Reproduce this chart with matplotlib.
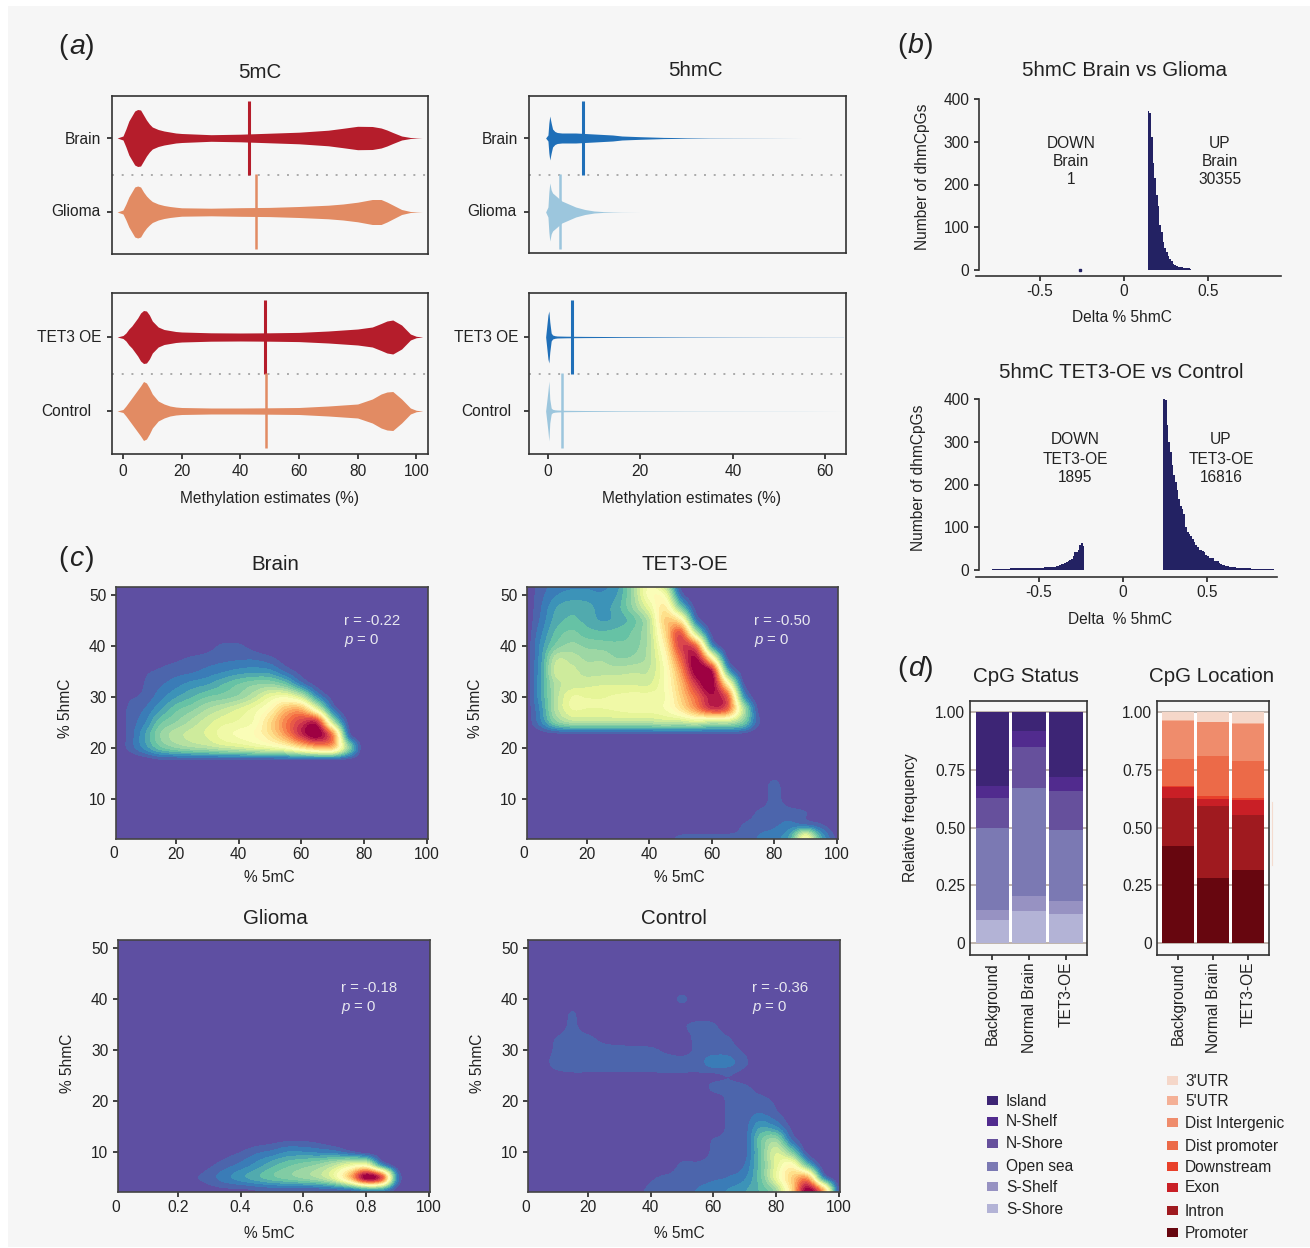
import numpy as np
import matplotlib
matplotlib.use('Agg')
import matplotlib.pyplot as plt
from matplotlib.patches import Rectangle

plt.rcParams['font.family'] = ['Liberation Sans', 'DejaVu Sans']
W, H = 1310, 1248

# (a) half widths of the violins, in pixels-ish
x_5mc = [-2,0,1,2,3,4,5,6,7,8,9,10,12,14,16,18,20,30,40,50,60,70,75,80,85,88,90,92,95,98,100,102]
mc_brain = [0,2,9,17,22,27,28.5,28,23,18,14,11,8.5,7,6,5,4.5,3.3,3.8,4.8,5.8,7.8,9.7,11.7,11.5,10,8,5.5,2,.5,.2,0]
mc_glioma = [0,2,8,15,20,25,26,25,20,16,13,10.5,8,6.5,5.5,4.8,4.2,3.8,4.3,4.6,5.5,6.8,8,9.8,12.5,12.5,10,7,2.5,.5,.2,0]
mc_tet3 = [0,1.5,4,8,11,15,19,24,26.5,26,22,16,10,7.5,6.5,5.5,5,4.2,4,4.2,4.6,6,7,8,10,13.5,16,17,12,3,.7,.1]
mc_control = [0,1.5,5,9,13,17,21,25,29.5,28,23,17,10,7,5,4,3.5,3,3,3.2,3.5,5,6,7,12,17,19,19.5,12,3,.7,.1]
mc_means = [43, 45.2, 48.3, 48.8]

x_5hmc = [-0.5,0,.2,.4,.7,1,1.5,2,3,4,6,8,10,12,14,16,20,25,30,35,40,47,55,64]
hmc_brain = [0,3,15,22,15,9,6.5,5.5,5,5,5,4.5,4,3.5,3,2,1.3,.6,.3,.15,.1,.06,0,0]
hmc_glioma = [0,5,20,29,22,19,17,15,11,9,5,2.5,1,.4,.2,.08,0,0,0,0,0,0,0,0]
hmc_tet3 = [0,22,26,15,4,2,1.3,1,.9,.8,.7,.6,.55,.5,.45,.4,.35,.28,.22,.18,.14,.1,.08,.06]
hmc_control = [0,20,30,12,3,1.7,1.2,1,.8,.7,.6,.5,.45,.4,.35,.3,.25,.2,.15,.12,.1,.08,.06,0]
hmc_means = [7.6, 2.6, 5.3, 3.1]

# (b) histogram counts
up1_x0, up1_counts = 0.14, [372,368,310,250,215,175,150,105,90,65,52,42,33,25,20,14,11,9,8,8,6,5,5,4,4,3]
up2_x0, up2_counts = 0.24, [400,398,340,300,275,245,222,205,187,165,150,142,130,100,90,85,80,72,66,58,54,47,46,44,42,36,33,29,27,28,
                            22,20,21,17,14,12,11,10,9,8,7,6,6,5,5,5,4,4,4,4,4,4,3,3,3,3,3,3,3,3,3,3,3,3,3,3]
down2_x0, down2_counts = -0.78, [3,3,3,3,3,3,3,3,3,3,3,4,4,4,4,4,4,4,4,4,4,4,4,4,4,5,5,5,5,5,5,6,6,6,6,7,8,8,9,10,
                                 12,14,15,17,19,20,23,26,33,41,43,46,58,63,55]

# (c) density read on a grid: x 0,5..100 and y 2.5,5..52.5
brain_y0, brain_rows = 17.5, [
    [0,0,.01,.03,.03,.03,.03,.03,.03,.03,.03,.03,.03,.03,.03,.02],
    [0,.05,.13,.22,.27,.30,.32,.35,.37,.40,.43,.48,.58,.66,.64,.28],
    [0,.05,.15,.27,.33,.36,.39,.44,.47,.50,.58,.72,.90,1.0,.76,.10],
    [0,.05,.11,.22,.27,.32,.37,.41,.43,.47,.60,.76,.88,.90,.36,.03],
    [0,.045,.08,.15,.22,.26,.31,.35,.39,.44,.52,.66,.68,.44,.10],
    [0,.03,.05,.10,.15,.19,.23,.25,.28,.34,.42,.45,.36,.14,.02],
    [0,0,.04,.07,.10,.13,.15,.19,.23,.26,.27,.22,.10,.02],
    [0,0,.03,.045,.06,.07,.09,.11,.13,.14,.13,.07,.02],
    [0,0,0,.02,.03,.045,.055,.065,.07,.07,.05,.015],
    [0,0,0,0,0,0,.02,.045,.045,.02],
]
tet3_y0, tet3_rows = 2.5, [
    [0,0,0,0,0,0,0,0,0,.02,.045,.05,.05,.05,.05,.08,.10,.17,.45,.17,.03],
    [0,0,0,0,0,0,0,0,0,0,0,0,0,0,.04,.06,.07,.09,.08,.045],
    [0,0,0,0,0,0,0,0,0,0,0,0,0,0,0,.045,.06,.055,.04],
    [0,0,0,0,0,0,0,0,0,0,0,0,0,0,0,0,.055,.01],
    [0,0,0,0,0,0,0,0,0,0,0,0,0,0,0,0,.055],
    [0,0,0,0,0,0,0,0,0,0,0,0,0,0,0,0,.02],
    [],
    [],
    [0,.01,.02,.02,.02,.02,.02,.02,.02,.02,.02,.02,.02,.02,.02],
    [0,.10,.25,.32,.33,.33,.33,.33,.33,.35,.35,.38,.35,.35,.25,.05],
    [0,.12,.32,.42,.42,.42,.43,.44,.44,.46,.56,.72,.87,.80,.35,.03],
    [0,.14,.32,.42,.42,.42,.43,.44,.44,.46,.62,.80,.95,.82,.18],
    [0,.14,.32,.36,.37,.38,.38,.38,.38,.47,.66,.90,1.0,.55,.06],
    [0,.14,.36,.36,.33,.33,.33,.34,.35,.47,.72,1.0,.95,.22,.01],
    [0,.13,.33,.33,.30,.30,.27,.28,.33,.50,.80,.97,.55,.05],
    [0,.12,.24,.28,.26,.25,.24,.25,.33,.55,.87,.78,.15],
    [0,.10,.20,.24,.21,.20,.21,.24,.33,.60,.82,.35,.03],
    [0,.08,.17,.20,.18,.15,.17,.22,.34,.62,.55,.10],
    [0,.07,.15,.18,.17,.14,.18,.28,.42,.55,.25,.02],
    [0,.06,.11,.13,.13,.12,.16,.30,.48,.45,.08],
    [0,.05,.09,.10,.10,.10,.14,.30,.45,.30,.03],
]
glioma_y0, glioma_rows = 2.5, [
    [0,0,0,0,0,0,.02,.03,.03,.04,.05,.05,.05,.05,.06,.08,.14,.14,.02],
    [0,0,0,0,0,.03,.06,.10,.14,.18,.22,.25,.28,.32,.42,.66,1.0,.85,.12],
    [0,0,0,0,0,0,.03,.06,.09,.13,.18,.22,.25,.28,.34,.42,.45,.14,.01],
    [0,0,0,0,0,0,0,.02,.04,.07,.09,.12,.12,.11,.10,.06,.02],
    [0,0,0,0,0,0,0,0,0,.01,.02,.03,.03,.02],
]
control_y0, control_rows = 2.5, [
    [0,0,0,0,0,0,0,.02,.05,.06,.06,.08,.10,.12,.15,.20,.30,.60,1.0,.70,.05],
    [0,0,0,0,0,0,0,0,.03,.05,.06,.06,.07,.08,.11,.22,.42,.62,.70,.15],
    [0,0,0,0,0,0,0,0,0,0,.05,.05,.06,.06,.08,.22,.40,.50,.22,.01],
    [0,0,0,0,0,0,0,0,0,0,0,0,.05,.06,.06,.22,.38,.25,.03],
    [0,0,0,0,0,0,0,0,0,0,0,0,.04,.05,.06,.22,.28,.08],
    [0,0,0,0,0,0,0,0,0,0,0,0,0,.05,.06,.15,.12,.03],
    [0,0,0,0,0,0,0,0,0,0,0,0,0,.05,.06,.08,.05,.01],
    [0,0,0,0,0,0,0,0,0,0,0,0,0,.05,.06,.06,.03],
    [0,0,0,0,0,0,0,0,0,0,0,0,.05,.05,.05,.02],
    [0,0,.02,.03,.03,.03,.03,.03,.03,.03,.03,.03,.03,.04,.02],
    [0,.01,.06,.06,.06,.06,.06,.06,.06,.06,.06,.06,.10,.09,.05],
    [0,0,.05,.06,.06,.06,.06,.055,.05,.03,.02,.05,.06,.06,.03],
    [0,0,.04,.06,.05,.02,0,0,0,0,.02,.05,.06,.04],
    [0,0,0,.05,0,0,0,0,0,0,.03,.05,.045],
    [0,0,0,.04],
    [0,0,0,0,0,0,0,0,0,0,.05],
]
r_values = ['r = -0.22', 'r = -0.50', 'r = -0.18', 'r = -0.36']

# (d) stacked fractions, bottom to top
samples = ['Background', 'Normal Brain', 'TET3-OE']
status_names = ['S-Shore', 'S-Shelf', 'Open sea', 'N-Shore', 'N-Shelf', 'Island']
status_colors = ['#B3B3D6', '#9792C2', '#7B79B3', '#66509C', '#512B8E', '#3D2575']
status_tops = [[.10,.145,.50,.63,.68,1], [.14,.205,.67,.85,.92,1], [.125,.18,.49,.66,.72,1]]
loc_names = ['Promoter', 'Intron', 'Exon', 'Downstream', 'Dist promoter', 'Dist Intergenic', "5'UTR", "3'UTR"]
loc_colors = ['#67060F', '#9F1A1F', '#C91F26', '#E8402A', '#EC6A48', '#EF8C6C', '#F4B096', '#F5D7C9']
loc_tops = [[.42,.63,.675,.68,.795,.96,.965,1], [.28,.595,.625,.635,.81,.955,.957,1], [.315,.555,.62,.63,.79,.95,.952,1]]

red, orange = '#B51D2B', '#E28B63'
blue, ltblue = '#1F6FB8', '#9CC6DD'
navy = '#232263'
dark = '#222222'
fs = 11.2


def px_axes(l, t, r, b):
    ax = fig.add_axes([l/W, 1-b/H, (r-l)/W, (b-t)/H])
    ax.set_facecolor('none')
    ax.tick_params(labelsize=fs, colors=dark, length=3.5, width=1.2)
    for s in ax.spines.values():
        s.set_linewidth(1.2)
        s.set_color('#333333')
    return ax


def violins(ax, xs, top, bottom, means, c1, c2, xlim, ylim, lw=(2.2, 1.8)):
    ax.fill_between(xs, 74-np.array(top), 74+np.array(top), color=c1, lw=0)
    ax.fill_between(xs, -np.array(bottom), bottom, color=c2, lw=0)
    ax.axhline(37, color='#AAAAAA', lw=1.4, ls=(0, (1, 4)))
    ax.plot([means[0]]*2, [37, 111], color=c1, lw=lw[0], solid_capstyle='butt')
    ax.plot([means[1]]*2, [-37, 38], color=c2, lw=lw[1], solid_capstyle='butt')
    ax.set_xlim(xlim)
    ax.set_ylim(ylim)
    ax.set_yticks([0, 74])
    ax.set_yticklabels([])


def density(ax, y0, rows):
    arr = np.zeros((21, 21))
    start = int(round((y0-2.5)/2.5))
    for i, row in enumerate(rows):
        arr[start+i, :len(row)] = row
    ax.imshow(arr, origin='lower', extent=[-2.5, 102.5, 1.25, 53.75], aspect='auto',
              cmap=plt.get_cmap('Spectral_r', 26), vmin=0, vmax=1,
              interpolation='catrom', interpolation_stage='data')
    ax.set_xlim(0.9, 100.4)
    ax.set_ylim(2.16, 51.6)
    ax.set_yticks([10, 20, 30, 40, 50])
    ax.set_xticks([20, 40, 60, 80, 100])
    ax.tick_params(axis='x', pad=2.2)
    for s in ax.spines.values():
        s.set_color('#444444')


def hist(ax, x0, counts, width=0.01):
    edges = x0 + np.arange(len(counts)+1)*width
    ax.stairs(counts, edges, fill=True, color=navy, lw=0.8)


def stacked(ax, tops, colors, xlim):
    ax.set_axisbelow(True)
    ax.axhspan(0, 1, color='white', lw=0, zorder=0)
    ax.grid(axis='y', color='#B5A8A0', lw=1.2)
    for i, t in enumerate(tops):
        prev = 0
        for top, c in zip(t, colors):
            ax.bar(i, top-prev, bottom=prev, width=0.9, color=c, lw=0, zorder=2)
            prev = top
    ax.set_xlim(xlim)
    ax.set_ylim(-0.052, 1.048)
    ax.set_yticks([0, .25, .5, .75, 1])
    ax.set_xticks([0, 1, 2])
    ax.set_xticklabels(samples, rotation=90, fontsize=fs)
    ax.tick_params(axis='y', length=0)
    ax.tick_params(axis='x', pad=1.5)


fig = plt.figure(figsize=(W/100, H/100), dpi=100, facecolor='white')
fig.add_artist(Rectangle((8/W, 1/H), (W-8)/W, (H-7)/H, transform=fig.transFigure,
                         facecolor='#F6F6F6', edgecolor='none', zorder=-5))

# panel a
xl1, xl2 = (-3.75, 104), (-4.1, 64.5)
a1 = px_axes(112, 96, 428, 254)
violins(a1, x_5mc, mc_brain, mc_glioma, mc_means[:2], red, orange, xl1, (-42, 116))
a1.set_xticks([])
a2 = px_axes(112, 293, 428, 454)
violins(a2, x_5mc, mc_tet3, mc_control, mc_means[2:], red, orange, xl1, (-43, 118))
a2.set_xticks(range(0, 101, 20))
a3 = px_axes(529, 96, 846, 253)
violins(a3, x_5hmc, hmc_brain, hmc_glioma, hmc_means[:2], blue, ltblue, xl2, (-41, 116))
a3.set_xticks([])
a4 = px_axes(529, 293, 846, 454)
violins(a4, x_5hmc, hmc_tet3, hmc_control, hmc_means[2:], blue, ltblue, xl2, (-43, 118))
a4.set_xticks(range(0, 61, 20))

# panel c
c1 = px_axes(116, 587, 428, 839)
density(c1, brain_y0, brain_rows)
c2 = px_axes(527, 587, 838, 839)
density(c2, tet3_y0, tet3_rows)
c3 = px_axes(118, 940, 430, 1192)
density(c3, glioma_y0, glioma_rows)
c3.set_xticklabels(['0.2', '0.4', '0.6', '0.8', '100'])
c4 = px_axes(528, 940, 840, 1192)
density(c4, control_y0, control_rows)

# panel b
for (t, y0, b, r, x0), parts in zip(
        [(99, 270, 276, 1281, 1124), (399, 570, 577, 1277, 1123)],
        [[(up1_x0, up1_counts)], [(up2_x0, up2_counts), (down2_x0, down2_counts)]]):
    ax = px_axes(976, t, r, b)
    for start, counts in parts:
        hist(ax, start, counts)
    ax.set_xlim((976-x0)/168, (r-x0)/168)
    ax.set_ylim(-(b-y0)/0.4275, 400)
    ax.spines[['top', 'right']].set_visible(False)
    ax.spines['left'].set_position(('data', (979-x0)/168))
    ax.spines['left'].set_bounds(0, 400)
    ax.set_yticks(range(0, 401, 100))
    ax.set_xticks([-.5, 0, .5])
    ax.set_xticklabels(['-0.5', '0', '0.5'])
    ax.tick_params(axis='x', pad=2.5)
    if t == 99:
        ax.plot([-0.26], [1], 's', ms=2, color=navy)

# panel d
d1 = px_axes(970, 701, 1087, 955)
stacked(d1, status_tops, status_colors, (-0.6, 2.57))
d1.set_yticklabels(['0', '0.25', '0.50', '0.75', '1.00'])
d2 = px_axes(1157, 701, 1269, 955)
stacked(d2, loc_tops, loc_colors, (-0.6, 2.6))
d2.set_yticklabels(['0', '0.25', '0.50', '0.75', '1.00'])

# text layer in pixel coordinates
ov = fig.add_axes([0, 0, 1, 1], zorder=10)
ov.set_xlim(0, W)
ov.set_ylim(H, 0)
ov.axis('off')
ov.plot([1272, 1272], [802, 865], color='#F5DCCF', lw=0.8)


def T(x, y, s, size=fs, ha='center', color=dark, **kw):
    ov.text(x, y+1, s, fontsize=size, ha=ha, va='center', color=color, **kw)


for x, y, s in [(68, 46, 'a'), (907, 45, 'b'), (68, 558, 'c'), (907, 668, 'd')]:
    T(x, y, '(', 20.5, ha='right')
    T(x+1, y, s, 20.5, ha='left', style='italic')
    T(x+17, y, ')', 20.5, ha='left')

tsize = 14.8
for x, y, s in [(260, 71, '5mC'), (695, 70, '5hmC'), (1124, 70, '5hmC Brain vs Glioma'),
                (1121, 371, '5hmC TET3-OE vs Control'), (275, 563, 'Brain'), (685, 563, 'TET3-OE'),
                (275, 917, 'Glioma'), (674, 917, 'Control'), (1026, 675, 'CpG Status'),
                (1212, 675, 'CpG Location')]:
    T(x, y, s, tsize)

for x, y, s in [(101, 138, 'Brain'), (100, 210, 'Glioma'), (101, 337, 'TET3 OE'), (91, 411, 'Control'),
                (518, 138, 'Brain'), (517, 210, 'Glioma'), (518, 337, 'TET3 OE'), (511, 411, 'Control')]:
    T(x, y, s, ha='right')

T(270, 497, 'Methylation estimates (%)')
T(692, 497, 'Methylation estimates (%)')
T(1122, 316, 'Delta % 5hmC')
T(1120, 618, 'Delta  % 5hmC')
T(922, 176, 'Number of dhmCpGs', rotation=90)
T(918, 477, 'Number of dhmCpGs', rotation=90)
T(911, 817, 'Relative frequency', rotation=90)
for x, ys, lines in [(1071, (142, 161, 179), ('DOWN', 'Brain', '1')),
                     (1220, (142, 161, 179), ('UP', 'Brain', '30355')),
                     (1075, (439, 458, 476), ('DOWN', 'TET3-OE', '1895')),
                     (1221, (439, 458, 476), ('UP', 'TET3-OE', '16816'))]:
    for y, s in zip(ys, lines):
        T(x, y, s)

for x, y in [(269, 877), (679, 877), (269, 1232), (679, 1232)]:
    T(x, y, '% 5mC')
for x, y in [(66, 707), (476, 707), (68, 1062), (478, 1062)]:
    T(x, y, '% 5hmC', rotation=90)
for x, y in [(114, 853), (524, 853), (116, 1206), (526, 1206)]:
    T(x, y, '0')
for x, y, s in [(344, 620, r_values[0]), (754, 620, r_values[1]), (341, 987, r_values[2]), (752, 987, r_values[3])]:
    T(x, y, s, 10.8, ha='left', color='#E8E8F0')
    T(x, y+19, 'p', 10.8, ha='left', color='#E8E8F0', style='italic')
    T(x+13, y+19, '= 0', 10.8, ha='left', color='#E8E8F0')

# legends
for y, s, c in zip([1208, 1186, 1166, 1143, 1121, 1100], status_names, status_colors):
    ov.add_patch(Rectangle((987, y-4.5), 11, 9, color=c, lw=0))
    T(1006, y, s, ha='left')
for y, s, c in zip([1232, 1210, 1187, 1166, 1145, 1122.5, 1100, 1080], loc_names, loc_colors):
    ov.add_patch(Rectangle((1167, y-4.5), 11, 9, color=c, lw=0))
    T(1185, y, s, ha='left')

fig.savefig('out.png', dpi=100, facecolor=fig.get_facecolor())
